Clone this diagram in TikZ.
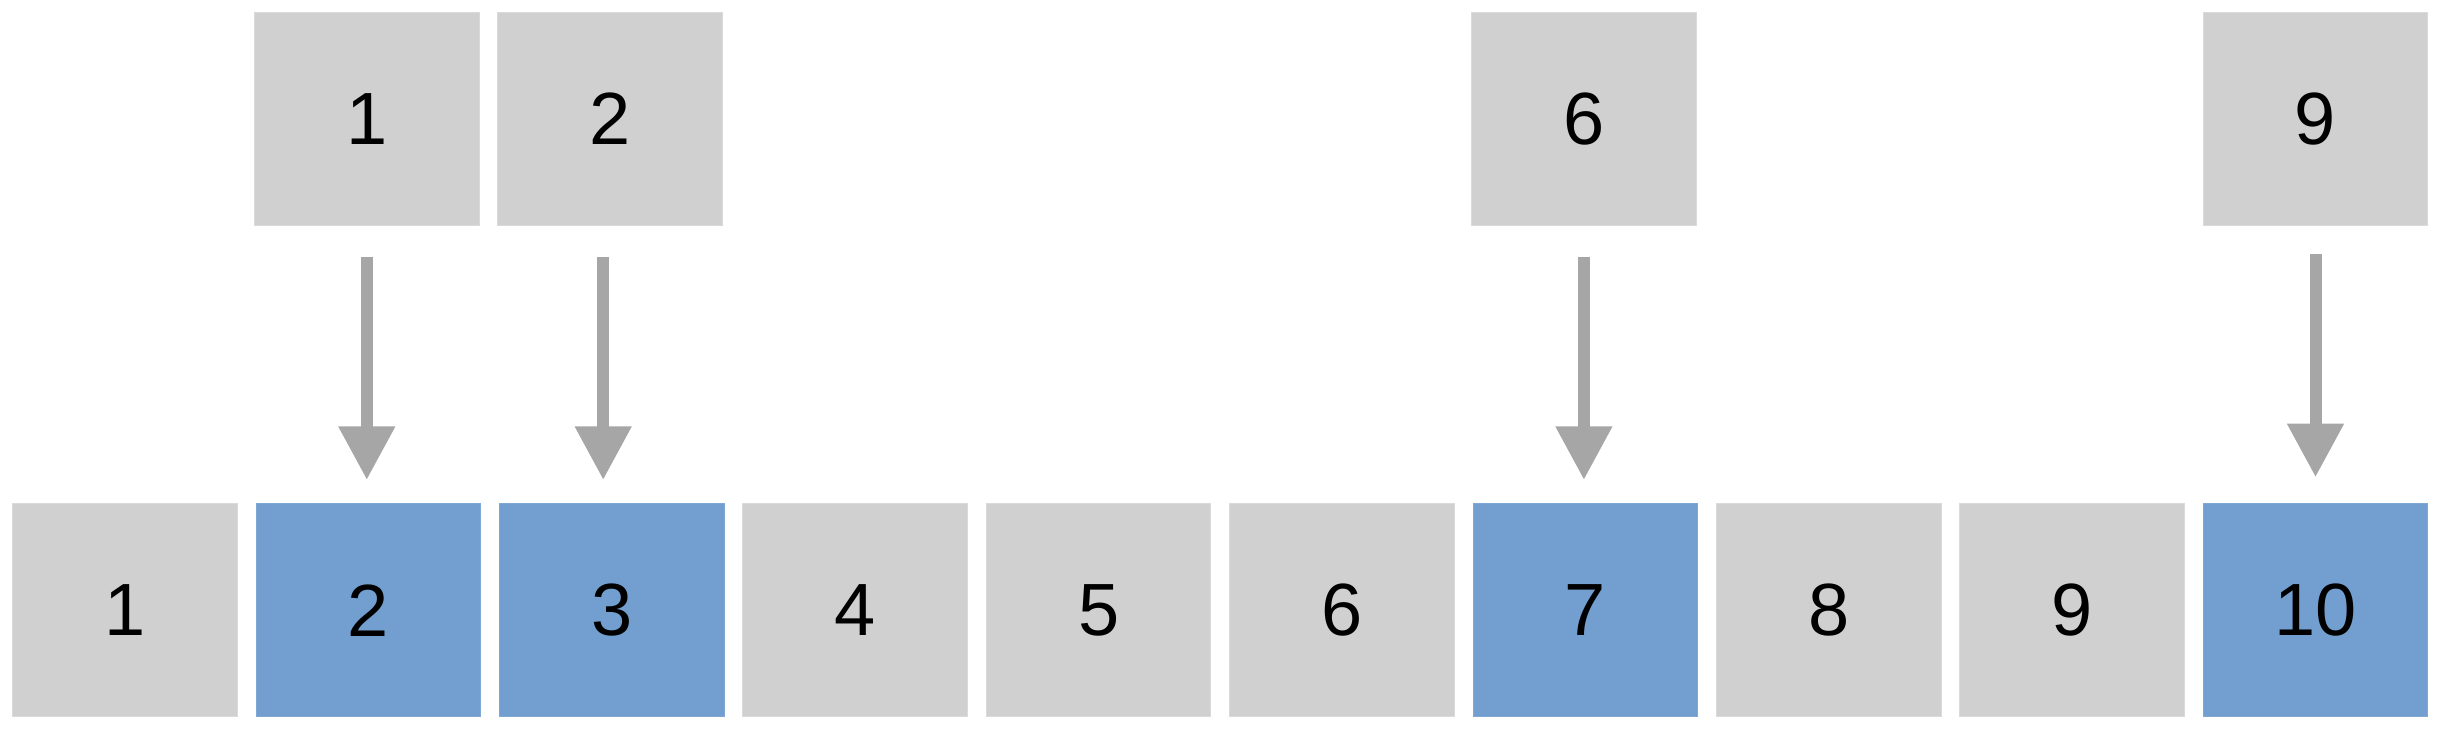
\documentclass[tikz,border=0pt]{standalone}
\usepackage{fontspec}
\setmainfont{Liberation Sans}
\usetikzlibrary{arrows.meta}
\definecolor{boxgray}{HTML}{D0D0D0}
\definecolor{boxgrayline}{HTML}{DADADA}
\definecolor{boxblue}{HTML}{729FCF}
\definecolor{boxblueline}{HTML}{7FA8D4}
\definecolor{arrgray}{HTML}{A6A6A6}
\tikzset{
  cell/.style={rectangle, inner sep=0pt, minimum width=224.6pt, minimum height=213.4pt,
    fill=boxgray, draw=boxgrayline, line width=1pt,
    font=\fontsize{74}{80}\selectfont, text=black},
  hicell/.style={cell, fill=boxblue, draw=boxblueline},
  topcell/.style={cell, minimum height=212.8pt},
  arr/.style={draw=arrgray, line width=12pt,
    -{Triangle[width=53.6pt,length=53.6pt]}, arrgray}
}
\begin{document}
\begin{tikzpicture}[x=1pt,y=-1pt]
\useasboundingbox (0,0) rectangle (2444,732);
% bottom row
\node[cell]   (b1)  at (125.0,610.2) {1};
\node[hicell] (b2)  at (368.4,610.2) {2};
\node[hicell] (b3)  at (611.8,610.2) {3};
\node[cell]   (b4)  at (855.2,610.2) {4};
\node[cell]   (b5)  at (1098.6,610.2) {5};
\node[cell]   (b6)  at (1342.0,610.2) {6};
\node[hicell] (b7)  at (1585.4,610.2) {7};
\node[cell]   (b8)  at (1828.8,610.2) {8};
\node[cell]   (b9)  at (2072.2,610.2) {9};
\node[hicell] (b10) at (2315.6,610.2) {10};
% top row
\node[topcell] (t1) at (366.8,118.6) {1};
\node[topcell] (t2) at (610.2,118.6) {2};
\node[topcell] (t6) at (1583.9,118.6) {6};
\node[topcell] (t9) at (2315.5,118.6) {9};
% arrows
\draw[arr, shorten <=31pt, shorten >=23pt] (t1.south) -- (t1.south |- b2.north);
\draw[arr, shorten <=31pt, shorten >=23pt] ([xshift=-7pt]t2.south) -- ([xshift=-7pt]t2.south |- b3.north);
\draw[arr, shorten <=31pt, shorten >=23pt] (t6.south) -- (t6.south |- b7.north);
\draw[arr, shorten <=28pt, shorten >=25.7pt] (t9.south) -- (t9.south |- b10.north);
\end{tikzpicture}
\end{document}
